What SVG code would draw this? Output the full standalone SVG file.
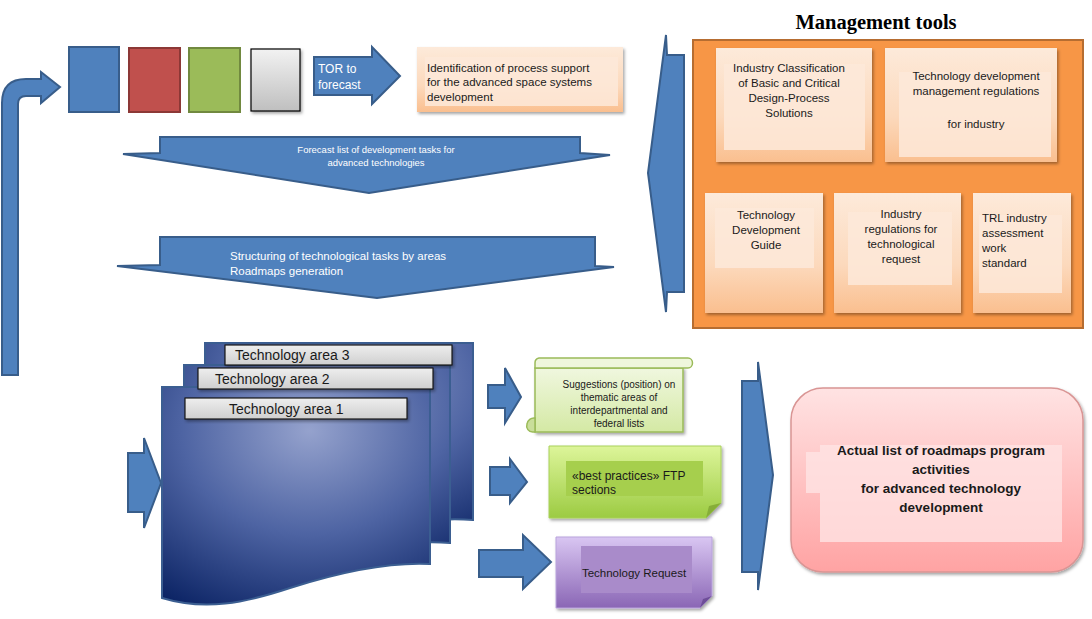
<svg xmlns="http://www.w3.org/2000/svg" width="1092" height="619" viewBox="0 0 1092 619">
<defs>
<linearGradient id="gGray" x1="0" y1="0" x2="0" y2="1"><stop offset="0" stop-color="#F2F2F2"/><stop offset="1" stop-color="#BFBFBF"/></linearGradient>
<linearGradient id="gPeach" x1="0" y1="0" x2="0" y2="1"><stop offset="0" stop-color="#FDEADA"/><stop offset="0.6" stop-color="#FCD9BC"/><stop offset="1" stop-color="#FABF8F"/></linearGradient>
<linearGradient id="gPink" x1="0" y1="0" x2="0" y2="1"><stop offset="0" stop-color="#FFE3E3"/><stop offset="1" stop-color="#FFA3A3"/></linearGradient>
<linearGradient id="gScroll" x1="0" y1="0" x2="0" y2="1"><stop offset="0" stop-color="#F0F7DF"/><stop offset="1" stop-color="#D4E9A4"/></linearGradient>
<linearGradient id="gGreen" x1="0" y1="0" x2="0" y2="1"><stop offset="0" stop-color="#DDF59A"/><stop offset="1" stop-color="#9CCB42"/></linearGradient>
<linearGradient id="gPurple" x1="0" y1="0" x2="0" y2="1"><stop offset="0" stop-color="#D9C6F2"/><stop offset="1" stop-color="#8A66B5"/></linearGradient>
<linearGradient id="gBar" x1="0" y1="0" x2="0" y2="1"><stop offset="0" stop-color="#EEEEEE"/><stop offset="1" stop-color="#CFCFCF"/></linearGradient>
<radialGradient id="gDoc" cx="0.55" cy="0.2" r="0.95" fx="0.55" fy="0.2"><stop offset="0" stop-color="#95A2CD"/><stop offset="0.5" stop-color="#4E64A3"/><stop offset="1" stop-color="#0A2263"/></radialGradient>
<filter id="sh" x="-10%" y="-10%" width="130%" height="130%"><feDropShadow dx="1.5" dy="2" stdDeviation="1.5" flood-color="#000" flood-opacity="0.35"/></filter>
<style>
.arr{fill:#4F81BD;stroke:#385D8A;stroke-width:2;stroke-linejoin:miter}
.t{font-family:"Liberation Sans",Arial,sans-serif;fill:#1a1a1a}
.tw{font-family:"Liberation Sans",Arial,sans-serif;fill:#FFFFFF}
.tc{text-anchor:middle}
.mbox{fill:url(#gPeach);filter:url(#sh)}
.inner{fill:#FDE9D9;opacity:0.85}
.bar{fill:url(#gBar);stroke:#1a1a1a;stroke-width:1.2;filter:url(#sh)}
.doc{fill:url(#gDoc);stroke:#3B5E91;stroke-width:2}
</style>
</defs>
<rect width="1092" height="619" fill="#FFFFFF"/>

<g id="connectors">
  <path class="arr" d="M2,375 V103 Q2,79 26,79 H41 V72 L60,87 L41,103 V96 H26 Q18,96 18,104 V375 Z"/>
  <g id="tor-arrow">
    <polygon class="arr" points="314,57 372,57 372,47 400,76 372,104 372,95 314,95"/>
    <text class="tw" font-size="12" x="318" y="73">TOR to</text>
    <text class="tw" font-size="12" x="318" y="89">forecast</text>
  </g>
  <g id="forecast-arrow">
    <polygon class="arr" points="160,137 580,137 580,153 610,155 369,193 123,154 160,153"/>
    <text class="tw tc" font-size="9.5" x="376" y="153">Forecast list of development tasks for</text>
    <text class="tw tc" font-size="9.5" x="376" y="166">advanced technologies</text>
  </g>
  <g id="structuring-arrow">
    <polygon class="arr" points="160,237 595,237 595,266 614,267 377,298 117,266 160,265"/>
    <text class="tw" font-size="11.5" x="230" y="260">Structuring of technological tasks by areas</text>
    <text class="tw" font-size="11.5" x="230" y="275">Roadmaps generation</text>
  </g>
  <polygon class="arr" points="666,35 667,55 684,55 684,292 667,292 666,312 648,173"/>
  <polygon class="arr" points="128,453 144,453 144,438 161,483 144,528 144,512 128,512"/>
  <polygon class="arr" points="488,385 505,385 505,368 521,397 505,423 505,408 488,408"/>
  <polygon class="arr" points="490,467 510,467 510,459 527,482 510,503 510,495 490,495"/>
  <polygon class="arr" points="479,550 523,550 523,535 551,562 523,589 523,577 479,577"/>
  <polygon class="arr" points="742,381 758,381 758,362 773,475 758,590 758,572 742,572"/>
</g>

<g id="squares">
  <rect x="69" y="47" width="50" height="65" fill="#4F81BD" stroke="#385D8A" stroke-width="2"/>
  <rect x="129" y="48" width="51" height="64" fill="#C0504D" stroke="#8C3836" stroke-width="2"/>
  <rect x="189" y="48" width="51" height="64" fill="#9BBB59" stroke="#71893F" stroke-width="2"/>
  <rect x="251" y="49" width="49" height="62" fill="url(#gGray)" stroke="#000" stroke-width="1.2" filter="url(#sh)"/>
</g>

<g id="identification">
  <rect x="417" y="47" width="206" height="65" class="mbox"/>
  <rect x="425" y="57" width="193" height="49" class="inner"/>
  <text class="t" font-size="11.5" x="427" y="72">Identification of process support</text>
  <text class="t" font-size="11.5" x="427" y="86">for the advanced space systems</text>
  <text class="t" font-size="11.5" x="427" y="101">development</text>
</g>

<g id="management-tools">
  <text x="876" y="29" font-family="'Liberation Serif','Times New Roman',serif" font-weight="bold" font-size="20.5" text-anchor="middle" fill="#000">Management tools</text>
  <rect x="693" y="40" width="390" height="288" fill="#F79646" stroke="#B66D31" stroke-width="2"/>
  <g id="mt1" font-size="11.5">
    <rect x="716" y="48" width="156" height="114" class="mbox"/>
    <rect x="724" y="64" width="141" height="86" class="inner"/>
    <text class="t tc" x="789" y="72">Industry Classification</text>
    <text class="t tc" x="789" y="87">of Basic and Critical</text>
    <text class="t tc" x="789" y="102">Design-Process</text>
    <text class="t tc" x="789" y="117">Solutions</text>
  </g>
  <g id="mt2" font-size="11.5">
    <rect x="885" y="48" width="172" height="114" class="mbox"/>
    <rect x="899" y="72" width="152" height="85" class="inner"/>
    <text class="t tc" x="976" y="80">Technology development</text>
    <text class="t tc" x="976" y="95">management regulations</text>
    <text class="t tc" x="976" y="128">for industry</text>
  </g>
  <g id="mt3" font-size="11.5">
    <rect x="705" y="193" width="118" height="120" class="mbox"/>
    <rect x="715" y="208" width="99" height="60" class="inner"/>
    <text class="t tc" x="766" y="219">Technology</text>
    <text class="t tc" x="766" y="234">Development</text>
    <text class="t tc" x="766" y="249">Guide</text>
  </g>
  <g id="mt4" font-size="11.5">
    <rect x="834" y="193" width="127" height="120" class="mbox"/>
    <rect x="848" y="212" width="104" height="73" class="inner"/>
    <text class="t tc" x="901" y="218">Industry</text>
    <text class="t tc" x="901" y="233">regulations for</text>
    <text class="t tc" x="901" y="248">technological</text>
    <text class="t tc" x="901" y="263">request</text>
  </g>
  <g id="mt5" font-size="11.5">
    <rect x="973" y="193" width="98" height="120" class="mbox"/>
    <rect x="979" y="215" width="83" height="78" class="inner"/>
    <text class="t" x="982" y="222">TRL industry</text>
    <text class="t" x="982" y="237">assessment</text>
    <text class="t" x="982" y="252">work</text>
    <text class="t" x="982" y="267">standard</text>
  </g>
</g>

<g id="technology-areas">
  <path class="doc" d="M205,343 H473 V520 C440,517 410,522 380,530 C340,540 290,545 250,538 L205,530 Z"/>
  <path class="doc" d="M184,365 H450 V543 C415,540 385,546 355,555 C315,566 265,570 225,562 L184,553 Z"/>
  <path class="doc" d="M162,387 H430 V564 C390,562 340,572 290,588 C245,603 205,611 162,598 Z"/>
  <g id="area3">
    <rect x="225" y="345" width="227" height="20" class="bar"/>
    <text class="t" font-size="14" x="235" y="360">Technology area 3</text>
  </g>
  <g id="area2">
    <rect x="198" y="368" width="235" height="21" class="bar"/>
    <text class="t" font-size="14" x="215" y="384">Technology area 2</text>
  </g>
  <g id="area1">
    <rect x="185" y="398" width="222" height="21" class="bar"/>
    <text class="t" font-size="14" x="229" y="414">Technology area 1</text>
  </g>
</g>

<g id="suggestions">
  <path d="M535,432 V368 H683 V432 Z" fill="url(#gScroll)" stroke="#9BBB59" stroke-width="1.5" filter="url(#sh)"/>
  <path d="M539,358 H688 A4.5,5 0 0 1 688,368 H535 V363 A5,5 0 0 1 539,358 Z" fill="#EFF6DC" stroke="#9BBB59" stroke-width="1.5"/>
  <path d="M527,424 A7,7 0 0 1 535,418 V432 H533 A6,6 0 0 1 527,424 Z" fill="#C9DE9A" stroke="#9BBB59" stroke-width="1.5"/>
  <text class="t tc" font-size="10" x="619" y="388">Suggestions (position) on</text>
  <text class="t tc" font-size="10" x="619" y="401">thematic areas of</text>
  <text class="t tc" font-size="10" x="619" y="414">interdepartmental and</text>
  <text class="t tc" font-size="10" x="619" y="427">federal lists</text>
</g>

<g id="best-practices">
  <path d="M549,446 H721 V503 L706,518 H549 Z" fill="url(#gGreen)" stroke="#A9D15A" stroke-width="1" filter="url(#sh)"/>
  <path d="M721,503 L706,518 L709,506 Z" fill="#86AE38"/>
  <rect x="566" y="461" width="137" height="35" fill="#A6CF4D"/>
  <text class="t" font-size="12" x="572" y="480">«best practices» FTP</text>
  <text class="t" font-size="12" x="572" y="494">sections</text>
</g>

<g id="technology-request">
  <path d="M556,537 H712 V596 L700,608 H556 Z" fill="url(#gPurple)" stroke="#B9A3DC" stroke-width="1" filter="url(#sh)"/>
  <path d="M712,596 L700,608 L703,599 Z" fill="#6E4E98"/>
  <rect x="581" y="546" width="111" height="47" fill="#A98BCA"/>
  <text class="t tc" font-size="11.5" x="634" y="577">Technology Request</text>
</g>

<g id="actual-list">
  <rect x="791" y="388" width="292" height="184" rx="32" ry="32" fill="url(#gPink)" stroke="#D99594" stroke-width="1.5" filter="url(#sh)"/>
  <rect x="820" y="445" width="242" height="97" fill="#FFE4E4" opacity="0.8"/>
  <rect x="806" y="452" width="14" height="41" fill="#FFE4E4" opacity="0.8"/>
  <text class="t tc" font-size="13.5" font-weight="bold" x="941" y="455">Actual list of roadmaps program</text>
  <text class="t tc" font-size="13.5" font-weight="bold" x="941" y="474">activities</text>
  <text class="t tc" font-size="13.5" font-weight="bold" x="941" y="493">for advanced technology</text>
  <text class="t tc" font-size="13.5" font-weight="bold" x="941" y="512">development</text>
</g>
</svg>
